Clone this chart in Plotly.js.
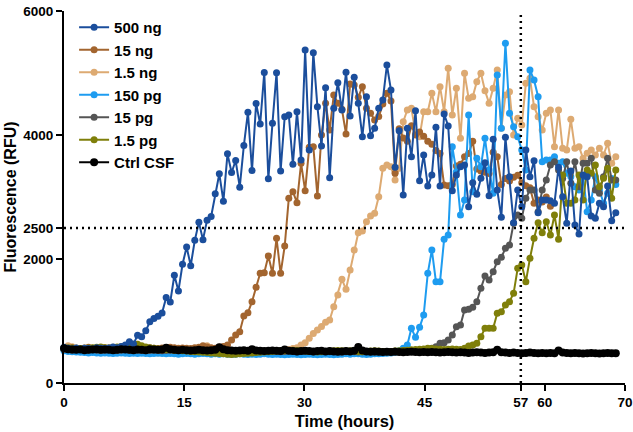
<!DOCTYPE html>
<html>
<head>
<meta charset="utf-8">
<script src="https://cdn.plot.ly/plotly-3.0.1.min.js"></script>
<style>html,body{margin:0;padding:0;background:#fff;}#chart{width:633px;height:432px;}</style>
</head>
<body>
<div id="chart"></div>
<script>
// Sampling interval (hours) between plate reads
const step = 0.51;

const seriesNames = ["500 ng", "15 ng", "1.5 ng", "150 pg", "15 pg", "1.5 pg", "Ctrl CSF"];
const xTicks = [0, 15, 30, 45, 57, 60, 70];
const yTicks = [0, 2000, 2500, 4000, 6000];

// 500 ng
const ng500 = [575,560,550,565,545,560,555,550,570,560,555,565,580,570,590,
611,665,628,772,745,842,987,1041,1078,1131,1379,1308,1738,1485,1915,2194,1893,2301,2591,2312,2623,2687,3052,3374,2933,3696,3395,3588,3159,3829,4365,3427,4510,4178,5009,3293,
4188,5006,3420,4296,4323,3527,4376,3597,5371,3758,5328,4457,3823,4763,3312,4431,4844,4403,5011,4307,4931,4512,3973,4618,3989,4108,4431,
4565,5129,4726,3479,4070,3032,4108,3650,4393,3263,3677,3178,3355,4124,3178,4339,4145,3102,
3355,3489,3516,2844,3231,3044,3301,3553,3021,3931,3113,2673,3963,3328,2586,3113,2844,3758,3328,3586,2747,2952,2952,2941,2898,3479,3005,2576,3420,2549,2403,3355,3328,2694,2657,2898,2844,3178,2618,2747];

// 15 ng
const ng15 = [560,555,570,560,550,565,575,560,555,560,570,565,560,555,560,570,575,560,555,565,560,570,560,555,565,560,575,570,560,565,560,555,570,575,600,580,570,560,575,590,
613,694,774,828,1081,1134,1311,1543,1769,1779,2048,1769,2334,1769,2210,2979,3086,2909,3544,3102,3802,3812,3016,4000,4512,4081,4645,4512,4415,4016,4823,4807,4608,4780,4431,4350,4242,
4300,4500,4672,4550,3383,4100,3950,3900,4150,4000,4050,3980,3900,3850,3750,3700,3194,3180,3200,3500,3530,3650,3700,3900,3450,3420,3400,3380,3720,3650,3200,3300,3260,3320,3350,3230,3180,3150,2900,2950,2920,3000,2850];

// 1.5 ng
const ng1_5 = [565,600,585,560,550,540,530,520,515,510,505,500,495,500,495,490,495,490,495,490,490,495,490,485,490,495,490,485,490,495,500,505,510,520,560,600,560,530,520,515,510,505,500,505,500,495,500,495,490,495,500,505,510,515,525,540,555,
570,613,650,721,800,855,910,980,1016,1231,1419,1672,1511,1823,2145,2424,2450,2602,2694,
2737,3005,3463,3516,3489,3274,3463,4215,4403,4431,4027,3973,4376,4376,4672,4376,4780,4376,5076,4323,4753,3946,4995,4592,4618,4860,4995,4715,4512,4753,5049,4108,4645,4699,4000,4270,4161,4834,4915,4457,4296,4081,4350,4403,3812,4403,3786,3758,4253,3786,3812,3624,3705,3758,3677,3786,3677,3866,3544,3650];

// 150 pg
const pg150 = [520,510,505,500,495,490,485,490,485,480,485,480,475,480,485,480,475,480,475,480,475,470,475,480,475,470,475,470,465,470,475,470,465,470,475,470,465,470,465,470,465,460,465,470,465,460,465,460,465,470,465,460,465,460,455,460,465,460,455,460,465,460,455,460,465,460,455,460,465,470,465,470,470,465,460,465,470,470,475,480,485,495,520,
560,613,882,737,898,1097,1769,2145,1634,1634,2318,2387,3812,3408,2710,2952,4323,3086,3624,3489,3946,3436,3060,4968,4108,5479,4350,4134,3973,3758,3436,5049,4887,4618,3570,3597,3597,3650,3544,3570,3383,3328,3166,3113,3328,2763,2952,3328,3113,2898,3060,3300,3200];

// 15 pg
const pg15 = [540,535,530,535,540,535,530,535,530,525,530,535,530,525,530,535,530,525,530,525,520,525,530,525,520,525,530,525,520,525,520,515,520,525,520,515,520,525,520,515,520,515,510,515,520,515,510,515,520,515,510,515,510,505,510,515,510,505,510,515,510,505,510,515,510,505,510,505,500,505,510,505,500,505,510,505,500,505,510,505,510,515,510,520,515,520,525,530,535,545,560,
586,640,650,694,774,908,936,1178,1189,1221,1311,1527,1726,1661,1795,1957,2027,2172,2226,2576,2710,2657,2979,3113,3113,2763,3113,3274,3516,3570,3436,3300,3570,3221,3570,3166,3544,3544,3624,3113,3060,3328,3624,3274,3274];

// 1.5 pg
const pg1_5 = [560,570,565,560,555,560,565,570,575,580,570,565,575,580,585,590,600,610,625,600,580,570,560,550,545,540,535,530,525,520,515,510,505,500,495,490,485,480,475,470,465,460,465,470,475,480,485,490,495,500,505,510,515,520,520,525,530,525,520,515,510,505,500,505,510,515,520,525,520,515,520,515,510,505,510,515,520,515,510,505,510,515,520,525,530,535,540,545,550,560,555,550,545,540,545,550,545,540,
560,597,613,640,747,882,882,882,1124,1150,1258,1311,1447,1850,1903,1634,2011,2334,2586,2425,2602,2387,2710,2318,3355,2898,2898,2952,3355,2952,3436,3383,3516,3166,3301,3463,2979,3436];

// Ctrl CSF
const ctrl = [560,545,540,535,540,530,535,540,545,535,540,535,530,535,545,540,535,530,540,535,530,545,540,535,540,570,545,535,530,535,530,525,530,535,530,525,530,535,575,545,530,525,520,525,530,520,545,525,520,515,520,525,520,515,540,520,515,510,515,520,515,510,515,520,510,515,510,505,510,515,510,520,580,525,510,505,510,505,500,505,500,505,500,495,500,505,500,495,500,495,500,495,490,495,500,495,490,495,490,485,490,495,490,485,490,495,535,495,490,485,490,485,480,485,490,485,480,485,480,485,480,525,490,485,480,485,480,475,480,485,480,475,480,485,480,480];

const colors = ["#1B4E9C", "#A3652F", "#DDAA72", "#1E9CF0", "#555555", "#7F7F0A", "#000000"];
const dataSets = [ng500, ng15, ng1_5, pg150, pg15, pg1_5, ctrl];
// drawing order (bottom to top)
const drawOrder = [2, 1, 3, 4, 5, 0, 6];

function timesFor(n) {
  const t = [];
  for (let i = 0; i < n; i++) t.push(+(i * step).toFixed(3));
  return t;
}

const traces = drawOrder.map(k => ({
  type: "scatter",
  mode: "lines+markers",
  name: seriesNames[k],
  x: timesFor(dataSets[k].length),
  y: dataSets[k],
  legendrank: k + 1,
  line: {color: colors[k], width: 2},
  marker: {color: colors[k], size: k === 6 ? 8 : 7},
  cliponaxis: false
}));

const fontFam = "Liberation Sans, Arial, sans-serif";

const layout = {
  width: 633, height: 432,
  margin: {l: 64, r: 8, t: 11, b: 49},
  paper_bgcolor: "#fff", plot_bgcolor: "#fff",
  showlegend: true,
  legend: {
    x: 0.018, y: 1.0, xanchor: "left", yanchor: "top",
    bgcolor: "rgba(0,0,0,0)",
    font: {family: fontFam, size: 15, weight: "bold", color: "#000"},
    traceorder: "normal"
  },
  xaxis: {
    range: [0, 70], tickvals: xTicks, ticktext: xTicks.map(String),
    ticks: "outside", ticklen: 6, tickwidth: 2, tickcolor: "#000",
    showline: true, linewidth: 2, linecolor: "#000",
    showgrid: false, zeroline: false,
    tickfont: {family: fontFam, size: 13.5, weight: "bold", color: "#000"},
    title: {text: "Time (hours)", font: {family: fontFam, size: 16.5, weight: "bold", color: "#000"}, standoff: 6}
  },
  yaxis: {
    range: [0, 6000], tickvals: yTicks, ticktext: yTicks.map(String),
    ticks: "outside", ticklen: 6, tickwidth: 2, tickcolor: "#000",
    showline: true, linewidth: 2, linecolor: "#000",
    showgrid: false, zeroline: false,
    tickfont: {family: fontFam, size: 13.5, weight: "bold", color: "#000"},
    title: {text: "Fluorescence (RFU)", font: {family: fontFam, size: 16, weight: "bold", color: "#000"}, standoff: 3}
  },
  shapes: [
    {type: "line", xref: "x", yref: "y", x0: 0, x1: 70, y0: 2500, y1: 2500,
     line: {color: "#000", width: 2.5, dash: "2px,4px"}},
    {type: "line", xref: "x", yref: "y", x0: 57, x1: 57, y0: 0, y1: 6000,
     line: {color: "#000", width: 2.5, dash: "2px,4px"}}
  ]
};

Plotly.newPlot("chart", traces, layout, {displayModeBar: false, staticPlot: true});
</script>
</body>
</html>
